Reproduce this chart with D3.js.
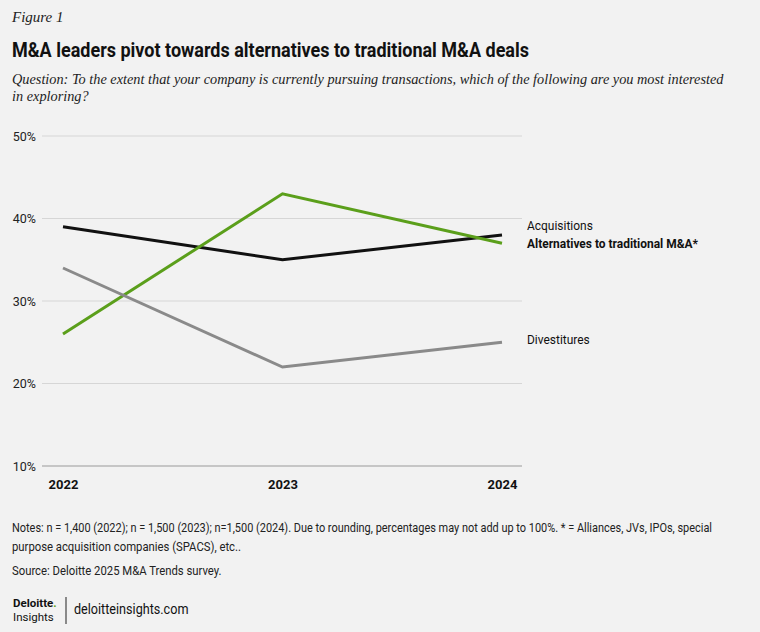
<!DOCTYPE html>
<html>
<head>
<meta charset="utf-8">
<script src="https://cdn.jsdelivr.net/npm/d3@7"></script>
<style>
  body { margin: 0; background: #f2f2f2; }
  svg { display: block; }
</style>
</head>
<body>
<svg id="chart" width="760" height="632"></svg>
<script>

// Chart data
const years = ["2022", "2023", "2024"];
const acquisitions = [39, 35, 38];
const alternatives = [26, 43, 37];
const divestitures = [34, 22, 25];
const yTicks = [10, 20, 30, 40, 50];

const series = [
	{name: "Acquisitions", values: acquisitions, color: "#111111", bold: false, labelY: 39.1},
	{name: "Alternatives to traditional M&A*", values: alternatives, color: "#5b9f1b", bold: true, labelY: 37.0},
	{name: "Divestitures", values: divestitures, color: "#8a8a8a", bold: false, labelY: 25.3}
];

const sans = "Roboto, 'Noto Sans', sans-serif";
const serif = "'Liberation Serif', 'DejaVu Serif', serif";
const narrow = 0.87; // horizontal squeeze to mimic the condensed face

const svg = d3.select("#chart");

svg.append("rect")
	.attr("width", 760).attr("height", 632)
	.attr("fill", "#f2f2f2");

// Header
svg.append("text")
	.attr("x", 12).attr("y", 22)
	.style("font-family", serif).style("font-style", "italic")
	.style("font-size", "15px").attr("fill", "#222")
	.text("Figure 1");

svg.append("text")
	.attr("x", 12).attr("y", 57)
	.attr("textLength", 517).attr("lengthAdjust", "spacingAndGlyphs")
	.style("font-family", sans).style("font-weight", "bold")
	.style("font-size", "21px").attr("fill", "#111")
	.text("M&A leaders pivot towards alternatives to traditional M&A deals");

const subtitle = [
	"Question: To the extent that your company is currently pursuing transactions, which of the following are you most interested",
	"in exploring?"
];
svg.append("g").selectAll("text")
	.data(subtitle)
	.join("text")
	.attr("x", 12).attr("y", (d, i) => 84 + i * 17)
	.style("font-family", serif).style("font-style", "italic")
	.style("font-size", "14.3px").attr("fill", "#222")
	.text(d => d);

// Scales
const x = d3.scalePoint().domain(years).range([63, 502]);
const y = d3.scaleLinear().domain([10, 50]).range([466, 136]);

// Gridlines
svg.append("g")
	.selectAll("line")
	.data(yTicks)
	.join("line")
	.attr("x1", 42).attr("x2", 522)
	.attr("y1", d => y(d)).attr("y2", d => y(d))
	.attr("stroke", d => d === 10 ? "#9a9a9a" : "#d6d6d6")
	.attr("stroke-width", 1);

// Y axis labels
const yAxis = svg.append("g")
	.attr("transform", "translate(36,0)")
	.call(d3.axisLeft(y).tickValues(yTicks).tickFormat(d => d + "%").tickSize(0).tickPadding(0));
yAxis.select(".domain").remove();
yAxis.selectAll("text")
	.style("font-family", sans).style("font-size", "12.5px").attr("fill", "#222");

// X axis labels
const xAxis = svg.append("g")
	.attr("transform", "translate(0,480)")
	.call(d3.axisBottom(x).tickSize(0).tickPadding(0));
xAxis.select(".domain").remove();
xAxis.selectAll("text")
	.attr("dy", "0.71em")
	.style("font-family", sans).style("font-weight", "bold")
	.style("font-size", "13px").attr("fill", "#111");

// Lines
const line = d3.line()
	.x((d, i) => x(years[i]))
	.y(d => y(d));

svg.append("g")
	.selectAll("path")
	.data(series)
	.join("path")
	.attr("d", d => line(d.values))
	.attr("fill", "none")
	.attr("stroke", d => d.color)
	.attr("stroke-width", 3);

// Series labels
svg.append("g")
	.selectAll("text")
	.data(series)
	.join("text")
	.attr("transform", d => `translate(527,${y(d.labelY)}) scale(0.92,1)`)
	.attr("dy", "0.35em")
	.style("font-family", sans)
	.style("font-weight", d => d.bold ? "bold" : "normal")
	.style("font-size", "13px").attr("fill", "#111")
	.text(d => d.name);

// Notes
const notes = [
	"Notes: n = 1,400 (2022); n = 1,500 (2023); n=1,500 (2024). Due to rounding, percentages may not add up to 100%. * = Alliances, JVs, IPOs, special",
	"purpose acquisition companies (SPACS), etc.."
];
const notesG = svg.append("g")
	.attr("transform", `translate(12,0) scale(${narrow},1)`);
notesG.selectAll("text")
	.data(notes)
	.join("text")
	.attr("x", 0).attr("y", (d, i) => 532 + i * 19)
	.attr("textLength", (d, i) => i === 0 ? 700 / narrow : null)
	.attr("lengthAdjust", "spacingAndGlyphs")
	.style("font-family", sans).style("font-size", "13px").attr("fill", "#222")
	.text(d => d);

notesG.append("text")
	.attr("x", 0).attr("y", 575)
	.style("font-family", sans).style("font-size", "13px").attr("fill", "#222")
	.text("Source: Deloitte 2025 M&A Trends survey.");

// Logo
const logo = svg.append("g");
logo.append("text")
	.attr("x", 13).attr("y", 607)
	.style("font-family", sans).style("font-weight", "bold")
	.style("font-size", "11.5px").attr("fill", "#111")
	.text("Deloitte")
	.append("tspan").attr("fill", "#5b9f1b").text(".");
logo.append("text")
	.attr("x", 13).attr("y", 621)
	.style("font-family", sans).style("font-size", "11.5px").attr("fill", "#111")
	.text("Insights");
logo.append("line")
	.attr("x1", 66).attr("x2", 66).attr("y1", 597).attr("y2", 624)
	.attr("stroke", "#222").attr("stroke-width", 1);
logo.append("text")
	.attr("transform", `translate(74,614) scale(${narrow},1)`)
	.style("font-family", sans).style("font-size", "14.5px").attr("fill", "#111")
	.text("deloitteinsights.com");

</script>
</body>
</html>
